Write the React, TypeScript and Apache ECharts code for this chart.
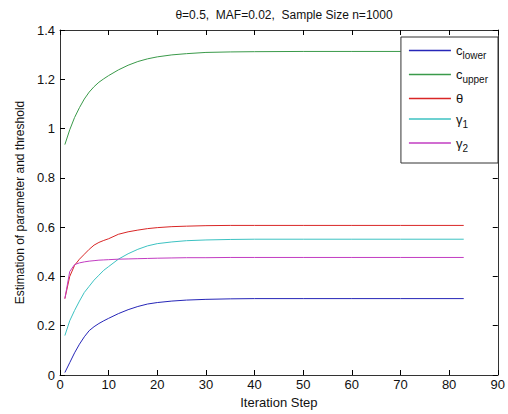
import React, { useEffect, useRef } from "react";
import * as echarts from "echarts";

const steps = [1, 2, 3, 4, 5, 6, 7, 8, 9, 10, 12, 14, 16, 18, 20, 23, 26, 30, 35, 40, 50, 60, 70, 83];
const cLower = [0.01, 0.05, 0.09, 0.125, 0.155, 0.18, 0.196, 0.209, 0.22, 0.23, 0.249, 0.265, 0.278, 0.288, 0.294, 0.3, 0.304, 0.307, 0.309, 0.31, 0.31, 0.31, 0.31, 0.31];
const cUpper = [0.935, 0.995, 1.045, 1.085, 1.12, 1.148, 1.17, 1.188, 1.202, 1.215, 1.238, 1.257, 1.272, 1.283, 1.291, 1.299, 1.304, 1.309, 1.311, 1.312, 1.313, 1.313, 1.313, 1.313];
const theta = [0.31, 0.4, 0.445, 0.47, 0.49, 0.51, 0.527, 0.538, 0.546, 0.553, 0.571, 0.581, 0.588, 0.594, 0.598, 0.602, 0.604, 0.606, 0.607, 0.607, 0.607, 0.607, 0.607, 0.607];
const gamma1 = [0.16, 0.22, 0.262, 0.3, 0.335, 0.36, 0.385, 0.405, 0.425, 0.44, 0.47, 0.492, 0.51, 0.524, 0.533, 0.54, 0.545, 0.548, 0.55, 0.551, 0.551, 0.551, 0.551, 0.551];
const gamma2 = [0.31, 0.42, 0.448, 0.455, 0.459, 0.462, 0.464, 0.466, 0.467, 0.468, 0.47, 0.471, 0.472, 0.473, 0.474, 0.475, 0.476, 0.476, 0.477, 0.477, 0.477, 0.477, 0.477, 0.477];

const seriesNames = ["c_lower", "c_upper", "theta", "gamma1", "gamma2"];
const seriesLabels: Record<string, string> = {
  c_lower: "{m|c}{s|lower}",
  c_upper: "{m|c}{s|upper}",
  theta: "{m|θ}",
  gamma1: "{m|γ}{s|1}",
  gamma2: "{m|γ}{s|2}",
};
const seriesData = [cLower, cUpper, theta, gamma1, gamma2];
const colors = ["#2626b8", "#3a9a4a", "#d92626", "#3cc2c2", "#c23cc2"];

const FONT = "'Liberation Sans', Arial, sans-serif";

export default function App() {
  const ref = useRef<HTMLDivElement>(null);
  useEffect(() => {
    if (!ref.current) return;
    const chart = echarts.init(ref.current, null, { renderer: "svg" });
    const tickStyle = { show: true, inside: true, length: 5, lineStyle: { color: "#000" } };
    const lineStyle = { show: true, onZero: false, lineStyle: { color: "#333", width: 1 } };
    chart.setOption({
      animation: false,
      backgroundColor: "#fff",
      textStyle: { fontFamily: FONT },
      title: {
        text: "θ=0.5,  MAF=0.02,  Sample Size n=1000",
        left: 279,
        textAlign: "center",
        top: 4,
        textStyle: { fontSize: 12, fontWeight: "normal", color: "#111", fontFamily: FONT },
      },
      grid: { left: 60, right: 10, top: 30, bottom: 39, containLabel: false },
      legend: {
        orient: "vertical",
        right: 10,
        top: 37,
        padding: [7, 10, 10, 8],
        itemWidth: 42,
        itemHeight: 1.5,
        itemGap: 7.5,
        icon: "rect",
        backgroundColor: "#fff",
        borderColor: "#333",
        borderWidth: 1,
        data: seriesNames,
        formatter: (name: string) => seriesLabels[name],
        textStyle: {
          color: "#111",
          fontFamily: FONT,
          rich: {
            m: { fontSize: 13, lineHeight: 20, verticalAlign: "middle", color: "#111", fontFamily: FONT },
            s: { fontSize: 10, lineHeight: 10, verticalAlign: "bottom", color: "#111", fontFamily: FONT },
          },
        },
      },
      xAxis: [
        {
          type: "value",
          min: 0,
          max: 90,
          interval: 10,
          position: "bottom",
          name: "Iteration Step",
          nameLocation: "middle",
          nameGap: 21,
          nameTextStyle: { fontSize: 13, color: "#111", fontFamily: FONT },
          axisLine: lineStyle,
          axisTick: tickStyle,
          axisLabel: { fontSize: 13, color: "#111", margin: 3, fontFamily: FONT },
          splitLine: { show: false },
        },
        {
          type: "value",
          min: 0,
          max: 90,
          interval: 10,
          position: "top",
          axisLine: lineStyle,
          axisTick: tickStyle,
          axisLabel: { show: false },
          splitLine: { show: false },
        },
      ],
      yAxis: [
        {
          type: "value",
          min: 0,
          max: 1.4,
          interval: 0.2,
          position: "left",
          name: "Estimation of parameter and threshold",
          nameLocation: "middle",
          nameGap: 27,
          nameTextStyle: { fontSize: 12, color: "#111", fontFamily: FONT },
          axisLine: lineStyle,
          axisTick: tickStyle,
          axisLabel: {
            fontSize: 13,
            color: "#111",
            margin: 5,
            fontFamily: FONT,
            formatter: (v: number) => String(+v.toFixed(1)),
          },
          splitLine: { show: false },
        },
        {
          type: "value",
          min: 0,
          max: 1.4,
          interval: 0.2,
          position: "right",
          axisLine: lineStyle,
          axisTick: tickStyle,
          axisLabel: { show: false },
          splitLine: { show: false },
        },
      ],
      series: seriesNames.map((name, i) => ({
        name,
        type: "line",
        xAxisIndex: 0,
        yAxisIndex: 0,
        showSymbol: false,
        symbol: "none",
        color: colors[i],
        lineStyle: { width: 1, color: colors[i] },
        data: steps.map((s, j) => [s, seriesData[i][j]]),
      })),
    });
    return () => chart.dispose();
  }, []);
  return (
    <div
      ref={ref}
      style={{ position: "fixed", left: 0, top: 0, width: 508, height: 414 }}
    />
  );
}
